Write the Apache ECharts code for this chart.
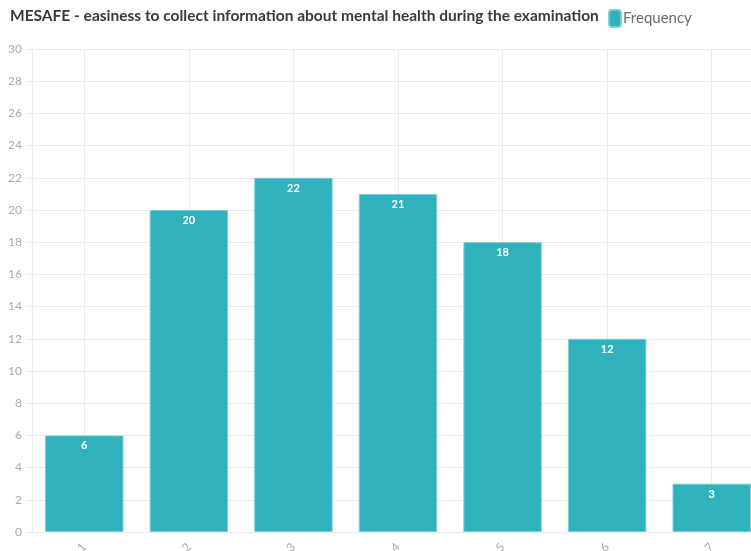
<!DOCTYPE html>
<html>
<head>
<meta charset="utf-8">
<script src="https://cdn.jsdelivr.net/npm/echarts@6/dist/echarts.min.js"></script>
<style>
  html, body { margin: 0; padding: 0; background: #ffffff; }
  #chart { width: 751px; height: 551px; }
</style>
</head>
<body>
<div id="chart"></div>
<script>
// Survey answer levels and how many respondents picked each one
const categories = ['1', '2', '3', '4', '5', '6', '7'];
const frequency = [6, 20, 22, 21, 18, 12, 3];
const titleText = 'MESAFE - easiness to collect information about mental health during the examination';
const seriesName = 'Frequency';

const chart = echarts.init(document.getElementById('chart'), null, { renderer: 'canvas' });

const gridTop = 49;
const gridBottom = 19;
const plotHeight = 551 - gridTop - gridBottom;

chart.setOption({
  animation: false,
  textStyle: { fontFamily: 'Lato, "Open Sans", sans-serif' },
  title: {
    text: titleText,
    left: 5,
    top: 3,
    textStyle: { fontSize: 15.5, fontWeight: 'bold', color: '#3a3a3a', fontFamily: 'Lato, sans-serif' }
  },
  legend: {
    left: 603,
    top: 4,
    icon: 'roundRect',
    itemWidth: 12,
    itemHeight: 17,
    itemGap: 4,
    textStyle: { fontSize: 15, color: '#6b6b6b', padding: [0, 0, 0, -3] },
    data: [seriesName]
  },
  grid: {
    left: 32, right: -13, top: gridTop, bottom: gridBottom,
    containLabel: false,
    outerBoundsMode: 'none'
  },
  xAxis: {
    type: 'category',
    data: categories,
    axisLine: { show: false },
    axisTick: {
      show: true,
      alignWithLabel: true,
      inside: true,
      length: plotHeight,
      lineStyle: { color: '#ebebeb', width: 1 }
    },
    splitLine: { show: false },
    axisLabel: { rotate: 45, color: '#aaaaaa', fontSize: 12, margin: 13 }
  },
  yAxis: {
    type: 'value',
    min: 0,
    max: 30,
    interval: 2,
    axisLine: { show: true, lineStyle: { color: '#ebebeb' } },
    axisTick: { show: true, length: 6, lineStyle: { color: '#ebebeb' } },
    splitLine: { show: true, lineStyle: { color: '#ebebeb', width: 1 } },
    axisLabel: { color: '#aaaaaa', fontSize: 12, margin: 10 }
  },
  series: [{
    name: seriesName,
    type: 'bar',
    data: frequency,
    barCategoryGap: '25%',
    itemStyle: {
      color: 'rgba(30, 171, 183, 0.92)',
      borderColor: 'rgba(120, 205, 212, 0.9)',
      borderWidth: 1
    },
    label: {
      show: true,
      position: 'insideTop',
      distance: 5,
      color: '#ffffff',
      fontSize: 11,
      fontWeight: 'bold'
    }
  }]
});
</script>
</body>
</html>
